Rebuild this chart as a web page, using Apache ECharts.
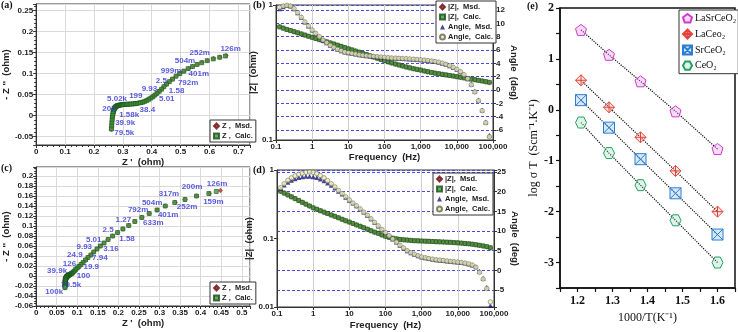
<!DOCTYPE html>
<html>
<head>
<meta charset="utf-8">
<script src="https://cdn.jsdelivr.net/npm/echarts@6/dist/echarts.min.js"></script>
<style>
html, body { margin: 0; padding: 0; background: #fff; }
#main { width: 738px; height: 332px; }
</style>
</head>
<body>
<div id="main"></div>
<script>
// frequencies (Hz), one list shared by panels a-d
var freq = [0.126,0.158,0.2,0.251,0.316,0.398,0.501,0.631,0.794,1,
    1.26,1.58,2,2.51,3.16,3.98,5.01,6.31,7.94,10,
    12.6,15.8,20,25.1,31.6,39.8,50.1,63.1,79.4,100,
    126,158,200,251,316,398,501,631,794,1000,
    1260,1580,2000,2510,3160,3980,5010,6310,7940,10000,
    12600,15800,20000,25100,31600,39800,50100,63100,79400];

// (a) Nyquist  Z' / -Z''
var zReA = [0.655,0.635,0.613,0.592,0.573,0.557,0.541,0.526,0.511,0.497,
    0.484,0.472,0.461,0.451,0.442,0.434,0.426,0.418,0.411,0.404,
    0.397,0.390,0.383,0.376,0.369,0.362,0.355,0.348,0.342,0.336,
    0.330,0.324,0.318,0.313,0.308,0.303,0.299,0.295,0.291,0.288,
    0.285,0.282,0.280,0.278,0.276,0.2745,0.273,0.2718,0.2705,0.2693,
    0.268,0.2668,0.2657,0.2647,0.2637,0.2628,0.262,0.2613,0.2607];
var zImA = [0.142,0.139,0.135,0.131,0.126,0.122,0.117,0.112,0.106,0.100,
    0.094,0.087,0.081,0.075,0.069,0.063,0.058,0.053,0.049,0.045,
    0.042,0.039,0.036,0.034,0.032,0.031,0.030,0.029,0.0285,0.028,
    0.0278,0.0275,0.0272,0.027,0.0268,0.0265,0.0262,0.0258,0.0254,0.025,
    0.0245,0.024,0.0232,0.0224,0.0215,0.0205,0.0193,0.018,0.0165,0.0145,
    0.012,0.009,0.005,0.0005,-0.005,-0.011,-0.018,-0.025,-0.032];
var zReAMsd = [0.657,0.636,0.614,0.592,0.574,0.557,0.541,0.527,0.511,0.497,
    0.484,0.472,0.461,0.451,0.442,0.434,0.426,0.418,0.411,0.404,
    0.397,0.390,0.383,0.376,0.369,0.362,0.355,0.348,0.342,0.336,
    0.330,0.324,0.318,0.313,0.308,0.303,0.299,0.295,0.291,0.288,
    0.285,0.282,0.280,0.278,0.276,0.2745,0.273,0.2718,0.2705,0.2693,
    0.268,0.2668,0.2657,0.2647,0.2637,0.2628,0.2618,0.2611,0.2604];
var zImAMsd = [0.143,0.139,0.136,0.131,0.127,0.122,0.117,0.112,0.106,0.100,
    0.094,0.087,0.081,0.075,0.069,0.063,0.058,0.053,0.049,0.045,
    0.042,0.039,0.036,0.034,0.032,0.031,0.030,0.029,0.0285,0.028,
    0.0278,0.0275,0.0272,0.027,0.0268,0.0265,0.0262,0.0258,0.0254,0.025,
    0.0245,0.024,0.0232,0.0224,0.0215,0.0205,0.0193,0.018,0.0165,0.0145,
    0.012,0.009,0.005,0.0005,-0.005,-0.011,-0.018,-0.026,-0.033];

// (c) Nyquist
var zReC = [0.438,0.420,0.390,0.362,0.337,0.314,0.294,0.275,0.257,0.240,
    0.225,0.211,0.198,0.186,0.175,0.165,0.156,0.148,0.140,0.133,
    0.126,0.120,0.114,0.109,0.104,0.100,0.096,0.093,0.090,0.088,
    0.086,0.084,0.082,0.081,0.080,0.079,0.078,0.077,0.076,0.0755,
    0.075,0.0745,0.074,0.0735,0.073,0.0727,0.0724,0.0721,0.0718,0.0716,
    0.0714,0.0712,0.071,0.0708,0.0706,0.0705,0.0704,0.0703,0.0702];
var zImC = [0.169,0.165,0.160,0.153,0.147,0.140,0.132,0.125,0.117,0.109,
    0.101,0.094,0.087,0.080,0.073,0.066,0.060,0.054,0.048,0.042,
    0.037,0.032,0.027,0.023,0.019,0.016,0.013,0.010,0.008,0.006,
    0.005,0.004,0.003,0.0025,0.002,0.0015,0.001,0.0005,0,-0.0005,
    -0.001,-0.0015,-0.002,-0.0025,-0.003,-0.0037,-0.0045,-0.0055,-0.0065,-0.0078,
    -0.009,-0.0105,-0.012,-0.0135,-0.015,-0.017,-0.019,-0.021,-0.023];
var zReCMsd = [0.448,0.421,0.390,0.362,0.338,0.314,0.294,0.275,0.257,0.240,
    0.225,0.211,0.198,0.186,0.175,0.165,0.156,0.148,0.140,0.133,
    0.126,0.120,0.114,0.109,0.104,0.100,0.096,0.093,0.090,0.088,
    0.086,0.084,0.082,0.081,0.080,0.079,0.078,0.077,0.076,0.075,
    0.074,0.073,0.072,0.0715,0.071,0.0708,0.0706,0.0705,0.0704,0.0703,
    0.0702,0.0702,0.0701,0.0701,0.07,0.07,0.07,0.07,0.07];
var zImCMsd = [0.171,0.165,0.160,0.153,0.147,0.140,0.132,0.125,0.117,0.109,
    0.101,0.094,0.087,0.080,0.073,0.066,0.060,0.054,0.048,0.042,
    0.037,0.032,0.027,0.023,0.019,0.016,0.013,0.010,0.008,0.006,
    0.005,0.004,0.003,0.0025,0.002,0.0015,0.001,0.0005,0,-0.0005,
    -0.001,-0.0015,-0.002,-0.003,-0.004,-0.005,-0.006,-0.007,-0.008,-0.009,
    -0.010,-0.011,-0.012,-0.014,-0.015,-0.017,-0.019,-0.021,-0.024];

// (b) Bode  |Z| (ohm) and phase angle (deg)
var magB = [0.690,0.675,0.660,0.648,0.636,0.624,0.612,0.600,0.588,0.577,
    0.566,0.555,0.545,0.535,0.525,0.515,0.505,0.495,0.485,0.475,
    0.466,0.457,0.448,0.439,0.430,0.421,0.412,0.404,0.396,0.388,
    0.380,0.373,0.366,0.360,0.354,0.348,0.343,0.338,0.334,0.330,
    0.325,0.321,0.317,0.313,0.310,0.307,0.304,0.301,0.298,0.295,
    0.292,0.289,0.286,0.283,0.280,0.277,0.274,0.271,0.268];
var magBMsd = [0.692,0.676,0.661,0.648,0.636,0.624,0.612,0.600,0.588,0.577,
    0.566,0.555,0.545,0.535,0.525,0.515,0.505,0.495,0.485,0.475,
    0.466,0.457,0.448,0.439,0.430,0.421,0.412,0.404,0.396,0.388,
    0.380,0.373,0.366,0.360,0.354,0.348,0.343,0.338,0.334,0.330,
    0.325,0.321,0.317,0.313,0.310,0.307,0.304,0.301,0.298,0.295,
    0.292,0.289,0.286,0.283,0.280,0.277,0.274,0.270,0.267];
var angB = [12.4,12.6,12.7,12.6,12.2,11.6,10.9,10.2,9.6,9.0,
    8.5,8.0,7.5,7.1,6.7,6.4,6.1,5.9,5.7,5.6,
    5.5,5.4,5.3,5.2,5.15,5.1,5.05,5.0,4.95,4.9,
    4.85,4.8,4.78,4.75,4.72,4.7,4.66,4.62,4.58,4.53,
    4.48,4.42,4.35,4.27,4.17,4.03,3.86,3.65,3.4,3.1,
    2.75,2.3,1.7,0.8,-0.3,-1.6,-3.1,-4.9,-7.0];
var angBMsd = [12.2,12.5,12.7,12.6,12.2,11.6,10.9,10.2,9.6,9.0,
    8.5,8.0,7.5,7.1,6.7,6.4,6.1,5.9,5.7,5.6,
    5.5,5.4,5.3,5.2,5.15,5.1,5.05,5.0,4.95,4.9,
    4.85,4.8,4.78,4.75,4.72,4.7,4.66,4.62,4.58,4.53,
    4.48,4.42,4.35,4.27,4.17,4.03,3.86,3.65,3.4,3.1,
    2.75,2.3,1.7,0.9,-0.2,-1.5,-3.0,-4.8,-6.8];

// (d) Bode
var magD = [0.490,0.461,0.433,0.407,0.383,0.360,0.338,0.318,0.299,0.281,
    0.268,0.255,0.243,0.232,0.221,0.211,0.201,0.191,0.182,0.174,
    0.166,0.158,0.151,0.144,0.137,0.130,0.124,0.119,0.113,0.108,
    0.104,0.101,0.099,0.097,0.096,0.095,0.094,0.093,0.0925,0.092,
    0.0915,0.091,0.0905,0.090,0.0895,0.089,0.0885,0.088,0.0872,0.0865,
    0.0857,0.0848,0.0838,0.0826,0.0812,0.0796,0.078,0.0762,0.0735];
var magDMsd = [0.494,0.462,0.434,0.407,0.383,0.360,0.338,0.318,0.299,0.281,
    0.268,0.255,0.243,0.232,0.221,0.211,0.201,0.191,0.182,0.174,
    0.166,0.158,0.151,0.144,0.137,0.130,0.124,0.119,0.113,0.108,
    0.104,0.101,0.099,0.097,0.096,0.095,0.094,0.093,0.0925,0.092,
    0.0915,0.091,0.0905,0.090,0.0895,0.089,0.0885,0.088,0.0872,0.0865,
    0.0857,0.0848,0.0838,0.0826,0.0812,0.0796,0.0778,0.0758,0.073];
var angD = [21.0,22.0,22.9,23.5,24.0,24.4,24.7,24.9,25.0,24.9,
    24.6,24.1,23.5,22.8,22.0,21.2,20.3,19.5,18.7,17.9,
    17.1,16.4,15.6,14.8,14.0,13.1,12.2,11.3,10.4,9.6,
    8.8,8.0,7.2,6.4,5.7,5.0,4.5,4.1,3.7,3.4,
    3.2,3.0,2.85,2.7,2.6,2.5,2.4,2.3,2.2,2.1,
    2.0,1.85,1.65,1.35,0.8,-0.5,-2.2,-4.6,-8.0];
var angDMsd = [20.8,21.7,22.4,22.9,23.3,23.6,23.8,23.9,23.9,23.8,
    23.6,23.2,22.8,22.2,21.6,20.9,20.1,19.4,18.6,17.8,
    17.1,16.4,15.6,14.8,14.0,13.1,12.2,11.3,10.4,9.6,
    8.8,8.0,7.2,6.4,5.7,5.0,4.5,4.1,3.7,3.4,
    3.2,3.0,2.85,2.7,2.6,2.5,2.4,2.3,2.2,2.1,
    2.0,1.85,1.65,1.35,0.9,-0.2,-2.0,-4.3,-8.9];

// tick values printed on the |Z| log axes
var magTicksB = [0.1, 1];
var magTicksD = [0.01, 0.1, 1];

// frequency tags written next to the Nyquist points: [Z', -Z'', text]
var tagsA = [[0.305,-0.04,'79.5k'],[0.308,-0.016,'39.9k'],[0.322,0.003,'1.58k'],[0.252,0.017,'20k'],
    [0.28,0.04,'5.02k'],[0.345,0.047,'199'],[0.385,0.013,'38.4'],[0.392,0.063,'9.93'],
    [0.452,0.04,'5.01'],[0.433,0.082,'2.5'],[0.486,0.06,'1.58'],[0.467,0.107,'999m'],
    [0.526,0.078,'792m'],[0.515,0.131,'504m'],[0.563,0.099,'401m'],[0.566,0.149,'252m'],
    [0.673,0.16,'126m']];
var tagsC = [[0.044,-0.031,'100k'],[0.085,-0.017,'79.5k'],[0.051,0.01,'39.9k'],[0.115,0.0,'100'],
    [0.081,0.025,'126'],[0.134,0.019,'19.9'],[0.094,0.042,'24.9'],[0.155,0.037,'7.94'],
    [0.117,0.059,'9.93'],[0.182,0.055,'3.16'],[0.14,0.073,'5.01'],[0.221,0.075,'1.58'],
    [0.175,0.093,'2.5'],[0.212,0.113,'1.27'],[0.285,0.107,'633m'],[0.248,0.132,'792m'],
    [0.321,0.123,'401m'],[0.282,0.147,'504m'],[0.367,0.139,'252m'],[0.323,0.165,'317m'],
    [0.379,0.179,'200m'],[0.431,0.149,'159m'],[0.44,0.185,'126m']];

// (e) Arrhenius plot
var invT = [1.21, 1.29, 1.38, 1.48, 1.6];
var logLaSr = [1.57, 1.08, 0.56, -0.03, -0.77];
var logLa = [0.58, 0.05, -0.54, -1.2, -2.0];
var logSr = [0.19, -0.35, -0.97, -1.64, -2.45];
var logCe = [-0.25, -0.85, -1.48, -2.17, -3.0];

var sans = 'Liberation Sans';
var serif = 'Liberation Serif';
var ink = '#222';

var chart = echarts.init(document.getElementById('main'));

function pairs(xs, ys) {
    var out = [];
    for (var i = 0; i < xs.length; i++) out.push([xs[i], ys[i]]);
    return out;
}

// only print values that sit on the step (hides extent ticks)
function stepLabel(step) {
    return function (v) {
        var k = v / step;
        if (Math.abs(k - Math.round(k)) > 1e-6) return '';
        return String(+v.toFixed(4));
    };
}

function freqLabel(v) {
    var n = +Number(v).toPrecision(6);
    return n >= 1000 ? n.toLocaleString('en-US') : String(n);
}

function axis(gridIndex, opt) {
    var ax = {
        gridIndex: gridIndex,
        nameLocation: 'middle',
        axisLine: {show: true, onZero: false, lineStyle: {color: '#333', width: 1}},
        axisTick: {show: true, length: 3, lineStyle: {color: '#333'}},
        axisLabel: {fontFamily: sans, fontWeight: 'bold', fontSize: 8, color: ink, margin: 3, hideOverlap: false},
        splitLine: {show: true, lineStyle: {color: '#dadada', width: 1}},
        nameTextStyle: {fontFamily: sans, fontWeight: 'bold', fontSize: 9.5, color: ink}
    };
    return echarts.util.merge(ax, opt, true);
}

var dashBlue = {show: true, lineStyle: {color: '#4a4ae0', type: [3, 2], width: 1}};
var gridGray = {show: true, lineStyle: {color: '#cfcfcf', width: 1}};

var msdZ = {color: '#b52a2a', borderColor: '#6a1010', borderWidth: 0.5};
var calcZ = {color: '#3d9a3d', borderColor: '#184d18', borderWidth: 0.7};
var msdAng = {color: '#1c1c78'};
var calcAng = {color: '#efefbc', borderColor: '#66664a', borderWidth: 0.7};

function tagSeries(tags, xi, yi) {
    return {
        type: 'scatter', xAxisIndex: xi, yAxisIndex: yi, symbolSize: 0, silent: true, z: 5,
        data: tags.map(function (t) { return {value: [t[0], t[1]], name: t[2]}; }),
        label: {show: true, position: 'inside', formatter: '{b}', color: '#2f2fd6',
            fontFamily: sans, fontWeight: 'bold', fontSize: 8}
    };
}

function bode(xi, yl, yr, mag, magMsd, ang, angMsd) {
    return [
        {name: '|Z|,  Msd.', type: 'scatter', xAxisIndex: xi, yAxisIndex: yl, symbol: 'diamond',
            symbolSize: 5, itemStyle: msdZ, data: pairs(freq, magMsd)},
        {name: '|Z|,  Calc.', type: 'scatter', xAxisIndex: xi, yAxisIndex: yl, symbol: 'rect',
            symbolSize: 4, itemStyle: calcZ, data: pairs(freq, mag)},
        {name: 'Angle,  Msd.', type: 'scatter', xAxisIndex: xi, yAxisIndex: yr, symbol: 'triangle',
            symbolSize: 5, itemStyle: msdAng, data: pairs(freq, angMsd)},
        {name: 'Angle,  Calc.', type: 'scatter', xAxisIndex: xi, yAxisIndex: yr, symbol: 'circle',
            symbolSize: 4.5, itemStyle: calcAng, data: pairs(freq, ang)}
    ];
}

var pentagon = 'path://M0,-10L9.5,-3.1L5.9,8.1L-5.9,8.1L-9.5,-3.1Z';
var diamondCross = 'path://M0,-10L10,0L0,10L-10,0ZM0,-10L0,10M-10,0L10,0';
var squareX = 'path://M-9,-9L9,-9L9,9L-9,9ZM-9,-9L9,9M9,-9L-9,9';
var hexagon = 'path://M-5,-9L5,-9L10,0L5,9L-5,9L-10,0Z';

function arrhenius(name, ys, sym, fill, edge) {
    return {
        name: name, type: 'line', xAxisIndex: 4, yAxisIndex: 6,
        symbol: sym, symbolSize: 11, showAllSymbol: true,
        lineStyle: {color: '#111', type: 'dotted', width: 1.2},
        itemStyle: {color: fill, borderColor: edge, borderWidth: 1},
        data: pairs(invT, ys)
    };
}

function legendBox(left, top, names, icons) {
    return {
        left: left, top: top, orient: 'vertical',
        borderColor: '#333', borderWidth: 1, backgroundColor: '#fff',
        padding: [2, 3, 2, 3], itemGap: 2, itemWidth: 5, itemHeight: 5,
        textStyle: {fontFamily: sans, fontWeight: 'bold', fontSize: 7.5, color: ink, padding: [0, 0, 0, -2]},
        data: names.map(function (n, i) { return {name: n, icon: icons[i]}; })
    };
}

var bodeNames = ['|Z|,  Msd.', '|Z|,  Calc.', 'Angle,  Msd.', 'Angle,  Calc.'];
var bodeIcons = ['diamond', 'rect', 'triangle', 'circle'];

var option = {
    animation: false,
    backgroundColor: '#fff',
    grid: [
        {left: 29, top: 4, width: 221, height: 141, show: true, borderColor: '#333', borderWidth: 1},
        {left: 31, top: 167, width: 219, height: 139, show: true, borderColor: '#333', borderWidth: 1},
        {left: 276, top: 5, width: 217, height: 135, show: true, borderColor: '#333', borderWidth: 1},
        {left: 277, top: 170, width: 217, height: 137, show: true, borderColor: '#333', borderWidth: 1},
        {left: 560, top: 8, width: 176, height: 280, show: true, borderColor: '#111', borderWidth: 1.5}
    ],
    xAxis: [
        axis(0, {type: 'value', min: 0, max: 0.74, interval: 0.1, name: "Z '  (ohm)", nameGap: 12,
            minorTick: {show: true, splitNumber: 5, length: 2},
            axisLabel: {formatter: stepLabel(0.1)}}),
        axis(1, {type: 'value', min: 0, max: 0.52, interval: 0.05, name: "Z '  (ohm)", nameGap: 12,
            minorTick: {show: true, splitNumber: 5, length: 2},
            axisLabel: {formatter: stepLabel(0.05)}}),
        axis(2, {type: 'log', logBase: 10, min: 0.1, max: 100000, name: 'Frequency  (Hz)', nameGap: 10,
            splitLine: gridGray, axisLabel: {formatter: freqLabel, showMinLabel: true, showMaxLabel: true}}),
        axis(3, {type: 'log', logBase: 10, min: 0.1, max: 100000, name: 'Frequency  (Hz)', nameGap: 13,
            splitLine: gridGray, axisLabel: {formatter: freqLabel, showMinLabel: true, showMaxLabel: true}}),
        axis(4, {type: 'value', min: 1.15, max: 1.65, interval: 0.05, name: '1000/T(K\u207B\u00B9)', nameGap: 22,
            axisLine: {lineStyle: {color: '#111', width: 1.5}},
            axisTick: {length: 4, lineStyle: {color: '#111', width: 1.2}},
            splitLine: {show: false},
            axisLabel: {formatter: stepLabel(0.1), fontFamily: serif, fontWeight: 'bold', fontSize: 12, color: '#111', margin: 7},
            nameTextStyle: {fontFamily: serif, fontWeight: 'normal', fontSize: 12, color: '#111'}})
    ],
    yAxis: [
        axis(0, {type: 'value', min: -0.07, max: 0.266, splitNumber: 7, minInterval: 0.05, maxInterval: 0.05,
            name: "- Z ''  (ohm)", nameGap: 20, axisLabel: {formatter: stepLabel(0.05)},
            minorTick: {show: true, splitNumber: 5, length: 2}}),
        axis(1, {type: 'value', min: -0.06, max: 0.218, interval: 0.02,
            name: "- Z ''  (ohm)", nameGap: 20, axisLabel: {formatter: stepLabel(0.02)},
            minorTick: {show: true, splitNumber: 4, length: 2}}),
        axis(2, {type: 'log', logBase: 10, min: 0.1, max: 1.003, name: '|Z|  (ohm)', nameGap: 9,
            splitLine: {show: false},
            axisTick: {customValues: magTicksB},
            axisLabel: {formatter: freqLabel, customValues: magTicksB, showMinLabel: true, showMaxLabel: true}}),
        axis(2, {type: 'value', position: 'right', min: -7.5, max: 12.75, splitNumber: 10,
            minInterval: 2, maxInterval: 2, name: 'Angle  (deg)', nameRotate: -90, nameGap: 9,
            splitLine: dashBlue, axisLabel: {formatter: stepLabel(2)}}),
        axis(3, {type: 'log', logBase: 10, min: 0.01, max: 1.003, name: '|Z|  (ohm)', nameGap: 12,
            splitLine: {show: false},
            axisTick: {customValues: magTicksD},
            axisLabel: {formatter: freqLabel, customValues: magTicksD, showMinLabel: true, showMaxLabel: true}}),
        axis(3, {type: 'value', position: 'right', min: -9.3, max: 25.5, splitNumber: 7,
            minInterval: 5, maxInterval: 5, name: 'Angle  (deg)', nameRotate: -90, nameGap: 16,
            splitLine: dashBlue, axisLabel: {formatter: stepLabel(5)}}),
        axis(4, {type: 'value', min: -3.5, max: 2, interval: 0.5,
            name: 'log \u03C3 T  (Scm\u207B\u00B9.K\u207B\u00B9)', nameGap: 17,
            axisLine: {lineStyle: {color: '#111', width: 1.5}},
            axisTick: {length: 4, lineStyle: {color: '#111', width: 1.2}},
            splitLine: {show: false},
            axisLabel: {formatter: stepLabel(1), fontFamily: serif, fontWeight: 'bold', fontSize: 12, color: '#111', margin: 6},
            nameTextStyle: {fontFamily: serif, fontWeight: 'normal', fontSize: 12, color: '#111'}})
    ],
    legend: [
        legendBox(210, 120, ['Z ,  Msd.', 'Z ,  Calc.'], ['diamond', 'rect']),
        legendBox(210, 282, ['Z ,  Msd.', 'Z ,  Calc.'], ['diamond', 'rect']),
        legendBox(436, 1, bodeNames, bodeIcons),
        legendBox(433, 173, bodeNames, bodeIcons),
        {
            left: 679, top: 10, orient: 'vertical',
            borderColor: '#333', borderWidth: 1, backgroundColor: '#fff',
            padding: [3, 2, 3, 3], itemGap: 5, itemWidth: 9, itemHeight: 9,
            textStyle: {fontFamily: serif, fontSize: 10, color: '#111', padding: [0, 0, 0, -2]},
            data: [
                {name: 'LaSrCeO\u2082', icon: pentagon},
                {name: 'LaCeo\u2082', icon: diamondCross},
                {name: 'SrCeO\u2082', icon: squareX},
                {name: 'CeO\u2082', icon: hexagon}
            ]
        }
    ],
    graphic: [
        {type: 'text', left: 1, top: 0, style: {text: '(a)', fontFamily: serif, fontWeight: 'bold', fontSize: 10, fill: '#111'}},
        {type: 'text', left: 1, top: 163, style: {text: '(c)', fontFamily: serif, fontWeight: 'bold', fontSize: 10, fill: '#111'}},
        {type: 'text', left: 253, top: 0, style: {text: '(b)', fontFamily: serif, fontWeight: 'bold', fontSize: 10, fill: '#111'}},
        {type: 'text', left: 253, top: 165, style: {text: '(d)', fontFamily: serif, fontWeight: 'bold', fontSize: 10, fill: '#111'}},
        {type: 'text', left: 527, top: 1, style: {text: '(e)', fontFamily: serif, fontWeight: 'bold', fontSize: 10, fill: '#111'}}
    ],
    series: [
        {name: 'Z ,  Msd.', type: 'scatter', xAxisIndex: 0, yAxisIndex: 0, symbol: 'diamond', symbolSize: 4.5,
            itemStyle: msdZ, data: pairs(zReAMsd, zImAMsd)},
        {name: 'Z ,  Calc.', type: 'scatter', xAxisIndex: 0, yAxisIndex: 0, symbol: 'rect', symbolSize: 4,
            itemStyle: calcZ, data: pairs(zReA, zImA)},
        tagSeries(tagsA, 0, 0),
        {name: 'Z ,  Msd.', type: 'scatter', xAxisIndex: 1, yAxisIndex: 1, symbol: 'diamond', symbolSize: 4.5,
            itemStyle: msdZ, data: pairs(zReCMsd, zImCMsd)},
        {name: 'Z ,  Calc.', type: 'scatter', xAxisIndex: 1, yAxisIndex: 1, symbol: 'rect', symbolSize: 4,
            itemStyle: calcZ, data: pairs(zReC, zImC)},
        tagSeries(tagsC, 1, 1)
    ]
        .concat(bode(2, 2, 3, magB, magBMsd, angB, angBMsd))
        .concat(bode(3, 4, 5, magD, magDMsd, angD, angDMsd))
        .concat([
            arrhenius('LaSrCeO\u2082', logLaSr, pentagon, 'rgba(232,150,232,0.35)', '#cf3bcf'),
            arrhenius('LaCeo\u2082', logLa, diamondCross, 'rgba(248,170,160,0.3)', '#e5423a'),
            arrhenius('SrCeO\u2082', logSr, squareX, 'rgba(140,190,240,0.35)', '#2b7fd2'),
            arrhenius('CeO\u2082', logCe, hexagon, 'rgba(150,220,180,0.3)', '#23a060')
        ])
};

chart.setOption(option);
window.addEventListener('resize', function () {
    chart.resize();
});
</script>
</body>
</html>
